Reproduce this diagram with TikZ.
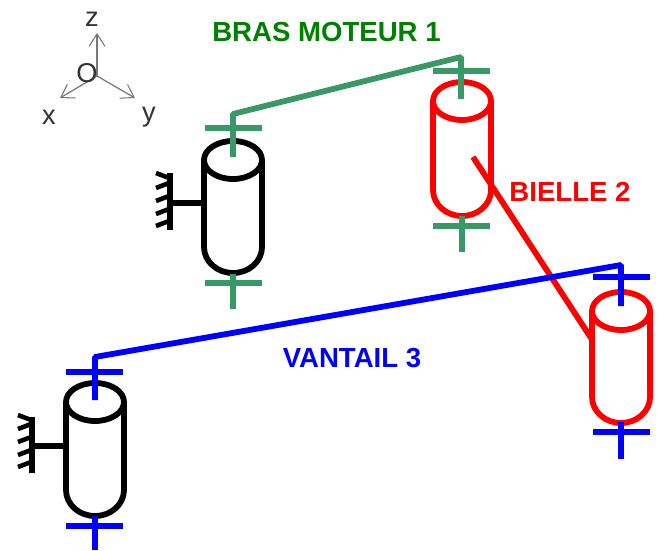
\documentclass[tikz,border=0pt]{standalone}
\usepackage{fontspec}
\setmainfont{Liberation Sans}
\usetikzlibrary{arrows.meta}
\definecolor{brasline}{RGB}{56,152,102}
\definecolor{brastext}{RGB}{0,128,0}
\definecolor{vantail}{RGB}{0,0,255}
\definecolor{bielle}{RGB}{255,0,0}
\definecolor{axe}{RGB}{120,120,120}
\tikzset{
  part/.style={line width=3.3pt},
  bati/.style={line width=2.9pt,black},
  tick/.style={line width=2.6pt,black},
  axis/.style={line width=0.7pt,axe,-{Straight Barb[length=7pt,width=9pt,line width=0.6pt]}},
  label/.style={font=\bfseries\fontsize{15.7pt}{17pt}\selectfont},
  axislabel/.style={font=\fontsize{15.5pt}{17pt}\selectfont,text=black!80}
}
\begin{document}
\begin{tikzpicture}[x=0.02cm,y=-0.02cm]
\useasboundingbox (0,0) rectangle (661,550);
    % axes
    \coordinate (o) at (97,76);
    \coordinate (oz) at (97,33);
    \coordinate (ox) at (60,98);
    \coordinate (oy) at (135,98);
    \draw [axis] (o) to (oz);
    \draw [axis] (o) to (ox);
    \draw [axis] (o) to (oy);
    \node [axislabel] (lz) at (92,19) {z};
    \node [axislabel] (lo) at (87,73) {O};
    \node [axislabel] (lx) at (49,117) {x};
    \node [axislabel] (ly) at (149,117) {y};
    % labels
    \node [label,text=brastext] (bras) at (326.5,32) {BRAS MOTEUR 1};
    \node [label,text=bielle] (biel) at (570,192) {BIELLE 2};
    \node [label,text=vantail] (vant) at (352,358) {VANTAIL 3};
    % cylinders
    \draw [part,black] (233,160) ellipse (29 and 19);
    \draw [part,black] (204,160) to (204,247) arc (180:0:29 and 26) to (262,160);
    \draw [part,black] (95,402) ellipse (29 and 19);
    \draw [part,black] (66,402) to (66,490) arc (180:0:29 and 26) to (124,402);
    \draw [part,bielle] (462,101) ellipse (29 and 19);
    \draw [part,bielle] (433,101) to (433,190) arc (180:0:29 and 26) to (491,101);
    \draw [part,bielle] (621,311) ellipse (29 and 19);
    \draw [part,bielle] (592,311) to (592,397) arc (180:0:29 and 26) to (650,311);
    % ground
    \coordinate (g1) at (204,203);
    \coordinate (g1a) at (170,203);
    \coordinate (g1t) at (170,173);
    \coordinate (g1b) at (170,230);
    \draw [bati] (g1) to (g1a);
    \draw [bati] (g1t) to (g1b);
    \draw [tick] (169,178) to (156,173);
    \draw [tick] (169,183) to (156,188);
    \draw [tick] (169,196) to (156,201);
    \draw [tick] (169,209) to (156,214);
    \draw [tick] (169,221) to (156,226);
    \coordinate (g2) at (66,446);
    \coordinate (g2a) at (32,446);
    \coordinate (g2t) at (32,417);
    \coordinate (g2b) at (32,473);
    \draw [bati] (g2) to (g2a);
    \draw [bati] (g2t) to (g2b);
    \draw [tick] (31,420) to (18,415);
    \draw [tick] (31,424) to (18,429);
    \draw [tick] (31,437) to (18,442);
    \draw [tick] (31,450) to (18,455);
    \draw [tick] (31,462) to (18,467);
    % bras moteur
    \coordinate (b1) at (233,157);
    \coordinate (b2) at (233,114);
    \coordinate (b3) at (461,57);
    \coordinate (b4) at (461,99);
    \draw [part,brasline,line join=bevel] (b1) to (b2) to (b3) to (b4);
    \draw [part,brasline] (205,128) to (262,128);
    \draw [part,brasline] (433,71) to (490,71);
    \draw [part,brasline] (205,283) to (262,283);
    \draw [part,brasline] (233,274) to (233,309);
    \draw [part,brasline] (433,226) to (490,226);
    \draw [part,brasline] (462,216) to (462,252);
    % bielle
    \coordinate (r1) at (473,157);
    \coordinate (r2) at (591,338);
    \draw [part,bielle] (r1) to (r2);
    % vantail
    \coordinate (v1) at (95,400);
    \coordinate (v2) at (95,357);
    \coordinate (v3) at (621,265);
    \coordinate (v4) at (621,306);
    \draw [part,vantail,line join=bevel] (v1) to (v2) to (v3) to (v4);
    \draw [part,vantail] (66,372) to (123,372);
    \draw [part,vantail] (593,277) to (650,277);
    \draw [part,vantail] (66,526) to (123,526);
    \draw [part,vantail] (95,516) to (95,550);
    \draw [part,vantail] (593,432) to (650,432);
    \draw [part,vantail] (621,422) to (621,459);
\end{tikzpicture}
\end{document}
